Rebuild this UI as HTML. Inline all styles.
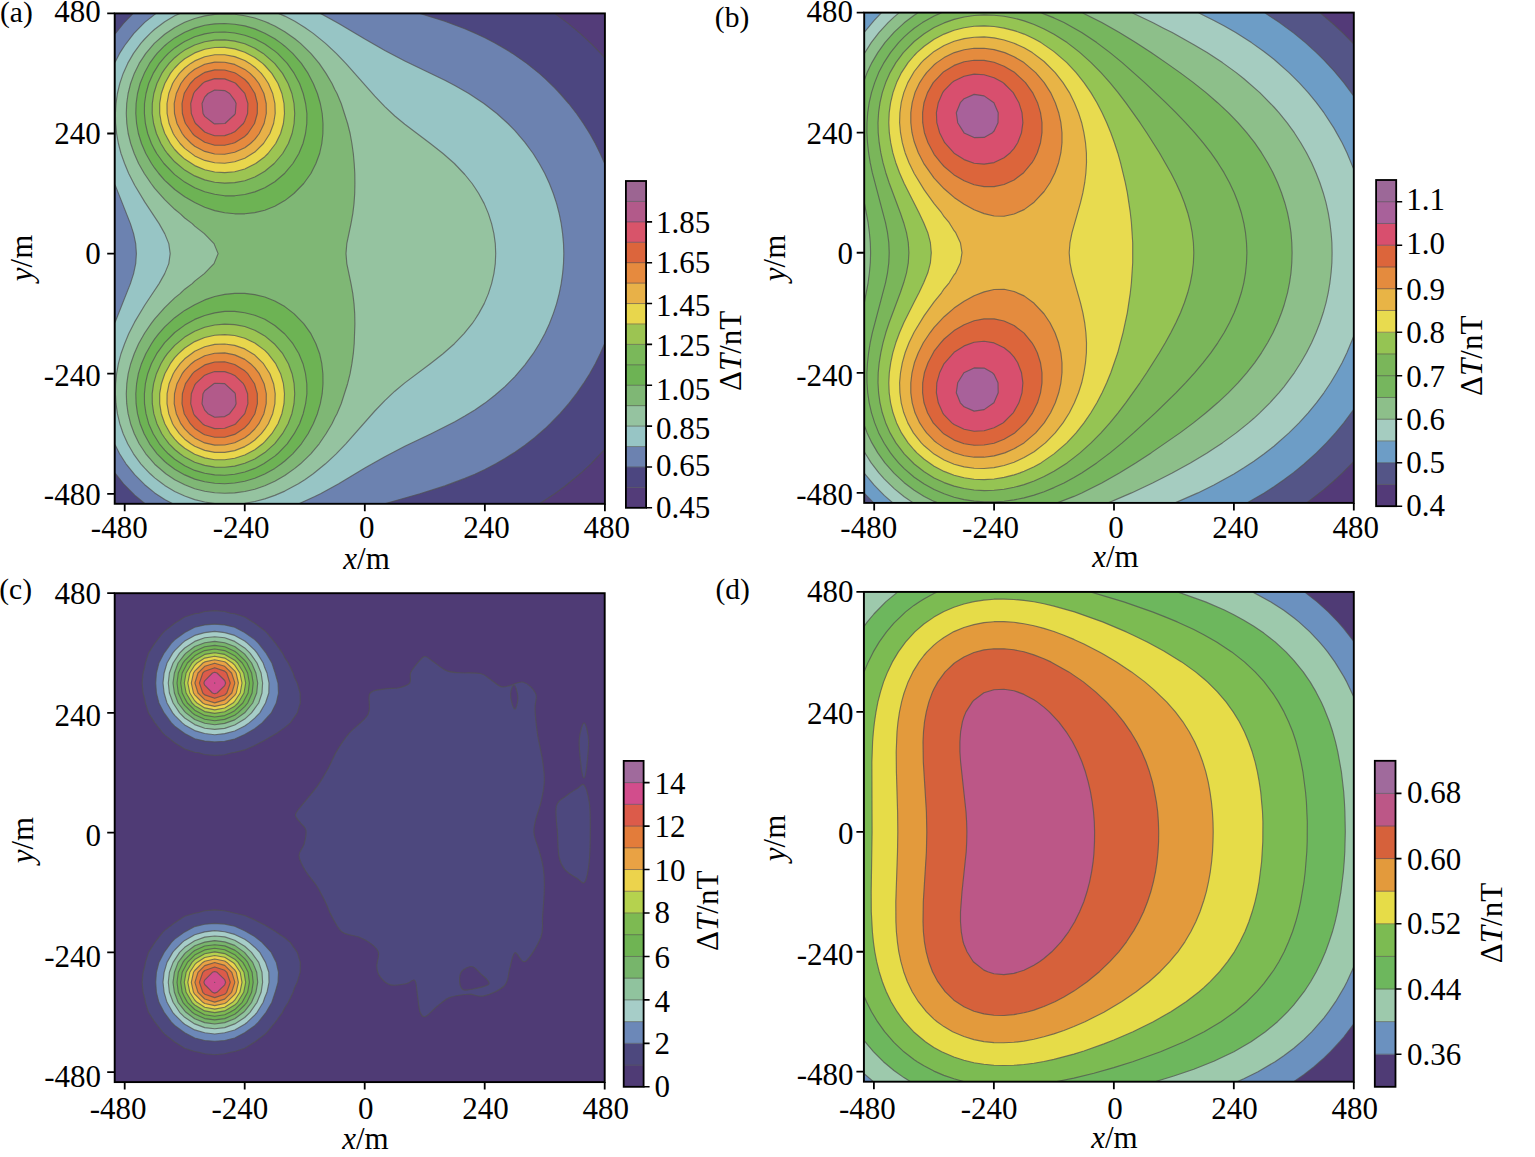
<!DOCTYPE html>
<html><head><meta charset="utf-8"><title>Magnetic anomaly contour maps</title>
<style>html,body{margin:0;padding:0;background:#fff;}svg{display:block;}text{font-family:"Liberation Serif", "Times New Roman", serif;font-size:31.0px;fill:#000;}</style></head><body>
<svg width="1535" height="1157" viewBox="0 0 1535 1157">
<rect width="1535" height="1157" fill="#fff"/>
<clipPath id="clipa"><rect x="114.70" y="13.40" width="490.20" height="490.40"/></clipPath>
<g clip-path="url(#clipa)">
<rect x="114.70" y="13.40" width="490.20" height="490.40" fill="#533c79"/>
<g stroke="#505050" stroke-width="1.15" stroke-opacity="0.72" stroke-linejoin="round">
<path d="M124.7 503.8l414.7 0l15.3 -10l10.2 -7.5l15.2 -12.5l10.8 -10l14 -14.6l0 -391.2l-4.1 -4.6l-9.9 -10l-10.8 -10l-12 -10l-13.4 -10l-440 0l0 488.3l2 2.1Z" fill="#4c4680"/>
<path d="M134.7 495.2l10.4 8.6l239.6 0l35.2 -10l24.9 -7.9l20 -7.5l10 -4.2l10.1 -4.8l10.9 -5.6l9.1 -5.3l10 -6.3l10 -7l10 -7.8l10 -8.6l5.3 -5.1l9.8 -10l8.7 -10l7.8 -10l6.9 -10l6.3 -10l5.6 -10l4.9 -10l4.7 -10.6l0 -179l-4.7 -10.6l-4.9 -10l-5.6 -10l-6.3 -10l-6.9 -10l-7.8 -10l-8.7 -10l-5.1 -5.4l-10 -9.7l-5.6 -5l-12.5 -10l-14.3 -10l-7.6 -4.7l-10 -5.8l-10 -5.2l-9.2 -4.3l-10.9 -4.6l-20 -7.5l-24.9 -7.9l-286.7 0l-9.7 10l-8.8 11.1l0 438.2l8.8 11.1Z" fill="#6c82b0"/>
<path d="M164.7 499.6l8.2 4.2l126 0l15.9 -7.2l5.7 -2.8l18.2 -10l26.1 -15.7l20 -11.4l20 -10.4l26.3 -12.6l23.7 -12l10 -5.6l10 -6.2l10.1 -6.8l10 -7.8l10 -8.7l10 -10l10 -11.7l8.2 -11.2l6.2 -10l5.5 -10l4.6 -10l3.9 -10.1l1.6 -4.7l1.7 -5.3l2.6 -10l2 -10l1.4 -10l.9 -10l.3 -10l-.3 -10l-.9 -10l-1.4 -10l-2 -10l-2.6 -10l-3.3 -10.1l-3.9 -10l-4.6 -10l-5.5 -10l-6.2 -10l-8.2 -11.2l-10 -11.7l-7 -7.1l-11.1 -10l-12.9 -10l-15.1 -10l-14 -8l-10 -5.3l-40 -19.3l-20 -10.4l-20 -11.4l-26.1 -15.7l-18.2 -10l-164.4 0l-11.4 9l-10.8 11l-9.2 12.1l-5.1 7.9l-4.9 9.7l0 120.8l15.7 39.7l3.2 10l2.1 10l.7 10l-.7 10l-2.1 10l-3.2 10l-15.7 39.7l0 120.8l4.9 9.7l5.1 7.9l1.3 2.1l8.7 10.9l10 10l10 8.2Z" fill="#97c5c5"/>
<path d="M184.7 496l10 3.6l10 2.4l10 1.5l4.2 .3l18.9 0l7 -.6l10 -1.7l10 -2.6l10 -3.5l10 -4.3l13.6 -7.3l6.4 -4.1l8.4 -5.9l12.3 -10l10.7 -10l9.6 -10l29 -32.8l10 -10.4l10 -9.4l10 -8.3l25.5 -19.2l12.7 -10l11.4 -10l9.6 -10l8.1 -10l2.7 -4l3.9 -6.1l5.5 -10l4.2 -10l3.2 -10l2.3 -10l1.4 -10l.4 -10l-.4 -10l-1.4 -10l-2.3 -10l-3.2 -10l-4.2 -10l-5.5 -10.1l-3.9 -6l-2.7 -4l-7.3 -9l-10.4 -11l-11.4 -10l-12.7 -10l-25.5 -19.2l-10 -8.3l-10 -9.4l-10 -10.4l-29 -32.8l-9.6 -10l-10.7 -10l-12.3 -10l-8.4 -5.9l-10 -6.2l-10 -5.2l-6.2 -2.7l-98.6 0l-5.3 2.4l-10 6l-10 7.5l-4.5 4.1l-5.5 5.6l-3.9 4.4l-7.3 10l-5.8 10l-4.5 10l-3.4 10.1l-2.4 10l-1.4 10l-.6 10l.2 10l1 10l1.8 10l2.6 10l3.6 10l4.1 10l6 11.8l10 16.6l14.4 21.7l5.6 10l4.1 10l1.4 10l-1.4 10l-4.1 10l-5.6 10l-14.4 21.7l-10 16.6l-6 11.8l-4.1 10l-3.6 10l-2.6 10l-1.8 10l-1 10l-.2 10l.6 10l1.4 10l2.4 10l3.4 10l4.5 10.1l5.8 10l7.3 10l3.9 4.4l5.5 5.6l4.5 4.1l7.8 5.9l2.2 1.6l10 6Z" fill="#95c3a0"/>
<path d="M184.7 484.8l10 3.9l10 2.6l10 1.5l10 .5l10 -.4l10.1 -1.4l10 -2.3l10 -3.5l10 -4.5l10 -5.7l10 -7.1l5.7 -4.6l10.3 -10l8.4 -10l6.8 -10.1l6 -10l2.8 -6l2.2 -4l4.2 -10l6.4 -20l2.5 -10l1.8 -10l1.4 -10l.9 -10l.7 -20l-.2 -10.1l-.7 -10l-1.2 -10l-1.8 -10l-4.2 -20l-.8 -10l.8 -10l4.2 -20l1.8 -10l1.2 -10l.7 -10.1l.2 -10l-.1 -10l-.6 -10l-.9 -10l-1.4 -10l-1.8 -10l-2.5 -10l-6.4 -20l-4.2 -10l-2.2 -4l-2.8 -6l-6 -10.1l-6.8 -10l-8.4 -10l-10.3 -10l-5.7 -4.6l-10 -7.1l-10 -5.7l-5.6 -2.6l-4.4 -1.9l-10 -3.5l-10 -2.3l-10.1 -1.4l-10 -.4l-10 .5l-10 1.5l-10 2.6l-10 3.8l-10 5.1l-10 6.8l-10.4 9.2l-8.5 10l-6.6 10l-4.9 10l-3.7 10.1l-2.5 10l-1.4 10l-.4 10l.5 10l1.4 10l2.5 10l3.5 10l4.4 10l5.7 10l6.8 10l3.6 4.8l10 11.3l10 9.7l5.4 4.3l4.6 4.4l7.5 5.6l2.5 2.5l9.6 7.5l9.7 10l4.1 10l-4.1 10l-9.7 10l-9.6 7.5l-2.5 2.5l-7.5 5.6l-4.6 4.4l-5.4 4.3l-10 9.7l-10 11.3l-3.6 4.8l-6.4 9.3l-6.1 10.7l-4.4 10l-3.5 10l-2.5 10l-1.4 10l-.5 10l.4 10l1.4 10l2.5 10l3.7 10l4.9 10.1l6.6 10l8.9 10.4l11.1 9.6l8.9 6Z" fill="#7fb775"/>
<path d="M184.7 474.9l10 4.2l10 2.7l10 1.5l10 .4l10 -.7l10.1 -1.7l10 -3l10 -4.3l10 -5.6l6.5 -4.6l3.5 -2.8l7.9 -7.2l8.7 -10l6.7 -10.1l5.2 -10l4.1 -10l2.9 -10l1.9 -10l.8 -10l-.1 -10l-1.1 -10l-2.2 -10l-3.7 -10l-5 -10l-7.2 -10l-9.8 -10.1l-9.1 -7l-10 -5.6l-10 -4l-10 -2.4l-10 -1.2l-10.1 0l-10 1l-10 2.1l-10 3.4l-10 4.8l-10 5.7l-10 7.3l-10 9.2l-5.9 6.8l-4.1 5.2l-3.2 4.8l-5.7 10l-4.3 10l-3.1 10l-1.8 10l-.8 10l.3 10l1.4 10l2.6 10l4 10l5.5 10.1l7.5 10l7.6 7.7l2.7 2.3l7.3 5.5ZM234.7 213.8l10.1 0l10 -1.2l10 -2.4l10 -4l10 -5.6l9.1 -7.1l9.8 -10l7.2 -10l5 -10l3.7 -10l2.2 -10l1.1 -10l.1 -10l-.8 -10l-1.9 -10l-2.9 -10l-4.1 -10l-5.2 -10.1l-6.7 -10l-8.7 -10l-7.9 -7.2l-3.5 -2.8l-6.5 -4.6l-10 -5.6l-10 -4.3l-10 -3l-10.1 -1.7l-10 -.7l-10 .4l-10 1.4l-10 2.8l-10 4.2l-10 5.6l-7.3 5.5l-2.7 2.3l-7.6 7.7l-2.4 3l-5.1 7l-4.9 9l-4.6 11.1l-2.6 10l-1.4 10l-.3 10l.8 10l1.8 10l3.1 10l4.3 10l5.7 10l3.2 4.7l4.1 5.3l5.9 6.8l3.5 3.2l6.5 6l10 7.3l10 5.7l10 4.8l10 3.3l10 2.1Z" fill="#6db354"/>
<path d="M214.7 474.9l10 .3l10 -1l10.1 -2.2l10 -3.6l8.9 -4.6l11.1 -7.7l2.8 -2.3l9.6 -10l7 -10.1l5.4 -10l3.6 -10l2.4 -10l1.3 -10l-.1 -10l-1.3 -10l-2.5 -10l-4.1 -10l-6 -10l-8.1 -9.7l-10 -8.5l-10 -6.2l-10 -4l-10 -2.6l-10.1 -1.3l-10 0l-10 1.5l-10 2.6l-10 3.9l-10 5.7l-10 7.4l-10 10.1l-8 11.1l-5.3 10l-3.7 10l-2.3 10l-1 10l.1 10l1.5 10l2.7 10l4.5 10l6.2 10.1l5.3 6.3l3.6 3.7l6.4 5.5l10 6.5l10 4.6l10 2.9ZM214.7 194.3l10 1.5l10 0l10.1 -1.3l10 -2.6l10 -4.1l10 -6.1l10 -8.5l8.1 -9.7l6 -10l4.1 -10l2.5 -10l1.3 -10l.1 -10l-1.3 -10l-2.4 -10l-3.6 -10l-5.4 -10.1l-7 -10l-9.6 -10l-2.8 -2.3l-10 -7.1l-10 -5.2l-10 -3.6l-10.1 -2.2l-10 -1l-10 .3l-10 1.6l-10 2.9l-10 4.6l-3.3 2l-6.7 4.5l-6.4 5.5l-3.6 3.7l-5.3 6.3l-6.2 10l-4.5 10.1l-2.7 10l-1.5 10l-.1 10l1 10l2.3 10l3.7 10l3.3 6.4l2 3.6l7.2 10l10.8 11.1l10 7.5l10 5.7l10 3.9Z" fill="#7ab85a"/>
<path d="M204.7 465.4l10 1.7l10 .2l10 -1.2l10.1 -2.8l10 -4.3l10 -6.4l10 -9l7.7 -9.9l5.6 -10l3.8 -10l2.1 -10l.7 -10l-.6 -10l-2 -10l-3.7 -10l-5.7 -10l-8.5 -10l-9.4 -7.8l-3.8 -2.2l-6.2 -3.5l-10 -3.7l-10.1 -1.9l-10 -.5l-10 .9l-10 2.3l-10 4l-10 5.8l-10 8.3l-7.3 8.3l-2.7 3.7l-3.8 6.3l-4.5 10l-2.8 10l-1.4 10l.1 10l1.5 10l3.1 10l4.9 10l2.9 4.3l4.4 5.8l5.6 5.7l5.3 4.3l4.7 3.3l10 5.1ZM194.7 175.9l10 4l10 2.3l10 .9l10 -.5l10.1 -1.9l10 -3.7l6.2 -3.5l3.8 -2.2l9.4 -7.8l8.5 -10l5.7 -10l3.7 -10l2 -10l.6 -10l-.7 -10l-2.1 -10l-3.8 -10l-5.6 -10.1l-7.9 -10l-11.4 -10l-8.4 -5.2l-10 -4.4l-10.1 -2.7l-10 -1.2l-10 .2l-10 1.7l-10 3.2l-10 5.1l-4.7 3.3l-5.3 4.3l-5.6 5.7l-4.4 5.7l-2.9 4.3l-4.9 10.1l-3.1 10l-1.5 10l-.1 10l1.4 10l2.8 10l4.5 10l3.8 6.3l2.7 3.7l7.3 8.3l10 8.3Z" fill="#9cc452"/>
<path d="M194.7 454.3l10 3.6l10 1.8l10 .1l10 -1.5l10.1 -3.3l10 -5.3l7.8 -5.9l2.2 -2.1l7 -8l6.2 -10l3.9 -10l2.1 -10l.5 -10l-1.1 -10l-2.8 -10l-4.9 -10l-7.7 -10l-3.2 -3.3l-10 -7.4l-10 -4.8l-10.1 -2.7l-10 -.9l-10 .6l-10 2.3l-10 4.1l-10 6.4l-6.2 5.7l-3.8 4l-4.4 6l-5.5 10l-3.4 10l-1.7 10l0 10l1.6 10l3.5 10l5.6 10l4.3 5.5l4.5 4.6l5.5 4.5ZM194.7 165.6l10 4.1l10 2.3l10 .6l10 -.9l10.1 -2.7l10.9 -5.5l9.1 -6.8l3.2 -3.2l7.7 -10l4.9 -10l2.8 -10l1.1 -10l-.5 -10l-2.1 -10l-3.9 -10l-6.2 -10.1l-7 -7.9l-2.2 -2.1l-7.8 -5.9l-10 -5.3l-10.1 -3.3l-10 -1.5l-10 .1l-10 1.8l-10 3.6l-10 5.9l-5.5 4.6l-4.5 4.6l-4.3 5.4l-5.6 10.1l-3.5 10l-1.6 10l0 10l1.7 10l3.3 9.8l5.6 10.2l4.4 6l3.8 4l6.2 5.6Z" fill="#e8d64c"/>
<path d="M194.7 446.3l10 4.1l10 2l10 0l10 -1.8l10.1 -4l4.8 -2.8l5.2 -3.8l6.5 -6.3l3.5 -4.5l3.6 -5.5l4.3 -10l2.2 -10l.3 -10l-1.6 -10l-3.7 -10l-6.4 -10l-8.7 -8.6l-10 -6.2l-10.1 -3.5l-10 -1.4l-10 .4l-10 2.4l-10 4.5l-10 7.5l-4.6 4.9l-5.4 7.5l-1.5 2.5l-4.1 10l-2 10l-.1 10l1.8 10l3.8 10l2.1 3.5l4.7 6.5l5.3 5.5l6 4.6ZM194.7 155.9l10 4.5l10 2.4l10 .4l10 -1.4l10.1 -3.5l10 -6.2l8.7 -8.6l6.4 -10l3.7 -10l1.6 -10l-.3 -10l-2.2 -10l-4.3 -10l-3.6 -5.5l-3.5 -4.6l-6.5 -6.2l-5.2 -3.8l-4.8 -2.9l-10.1 -3.9l-10 -1.8l-10 0l-10 2l-10 4.1l-4 2.5l-6 4.6l-5.3 5.4l-4.7 6.6l-2.1 3.5l-3.8 10l-1.8 10l.1 10l2 10l4.1 10l1.5 2.5l5.4 7.5l4.6 4.9Z" fill="#e8b148"/>
<path d="M214.7 445.1l10 -.1l10 -2.3l10.1 -4.9l5.3 -4.1l4.7 -4.7l4.1 -5.3l5 -10l2.3 -10l.1 -10l-2.2 -10l-4.8 -10l-4.5 -5.9l-4.3 -4.1l-5.7 -4.3l-10.1 -4.5l-10 -2l-10 .3l-10 2.6l-10 5.2l-3.4 2.7l-6.6 6.6l-2.5 3.4l-5.2 10l-2.5 10l-.3 10l2.1 10l4.6 10l3.8 5.2l4.7 4.8l5.3 4.2l10 5ZM214.7 154l10 .3l10 -2l10.1 -4.5l5.7 -4.3l4.3 -4.1l4.5 -5.9l4.8 -10l2.2 -10l-.1 -10l-2.3 -10l-5 -10l-4.1 -5.3l-4.7 -4.8l-5.3 -4l-10.1 -5l-10 -2.2l-10 -.1l-10 2.2l-10 5l-5.3 4.1l-4.7 4.9l-3.8 5.2l-4.6 10l-2.1 10l.3 10l2.5 10l5.2 10l2.5 3.4l6.6 6.6l3.4 2.7l10 5.2Z" fill="#e68a3e"/>
<path d="M204.7 434.8l10 2.5l10 -.1l10 -2.8l10.1 -6.7l3.8 -4l6.3 -10l2.5 -10l-.1 -10l-2.8 -10l-6.7 -10l-3 -2.9l-10.1 -6.3l-10 -2.7l-10 .2l-10 2.9l-10 6.5l-2.2 2.3l-7 10l-3.1 10l-.4 10l2.2 10l6.1 10l4.4 4.7l8.1 5.3ZM214.7 145.2l10 .1l7.4 -1.8l2.6 -.8l10.1 -6.3l3 -2.9l6.7 -10l2.8 -10l.1 -10l-2.5 -10l-6.3 -10l-3.8 -4l-8.8 -6.1l-1.3 -.6l-10 -2.8l-10 -.1l-10 2.5l-1.9 1l-8.1 5.4l-4.4 4.7l-5.6 9l-.5 1l-2.2 10l.4 10l2.3 8l.8 2l7 10l2.2 2.3l10 6.5Z" fill="#dc653c"/>
<path d="M204.7 425.3l10 3.3l10 -.3l10 -3.8l1.1 -.8l9 -10l3.1 -10l-.3 -10l-2.8 -7.4l-1.4 -2.6l-8.7 -8.3l-3.7 -1.7l-6.3 -2.1l-10 -.1l-6.5 2.2l-3.5 1.5l-9.1 8.5l-.9 1.4l-3.4 8.6l-.6 10l2.9 10l1.1 1.8l7.8 8.2ZM214.7 135.7l10 -.1l6.3 -2.1l3.7 -1.7l8.7 -8.3l1.4 -2.6l2.8 -7.4l.3 -10l-3.1 -10.1l-9 -9.9l-1.1 -.8l-10 -3.8l-10 -.3l-10 3.3l-2.2 1.6l-7.8 8.2l-1.1 1.8l-2.9 10l.6 10l3.4 8.6l.9 1.4l9.1 8.5l3.5 1.5Z" fill="#d8546a"/>
<path d="M214.7 417.2l10 -.6l4.9 -2.9l5.1 -6.8l1.4 -3.2l-.8 -10l-.6 -1l-10 -9.1l-10 -.3l-.9 .4l-9.1 7.1l-1.7 2.9l-1 10l2.7 6.4l3.3 3.6ZM214.7 123.9l10.3 -.4l9.7 -9l.6 -1l.8 -10l-1.4 -3.2l-5.1 -6.8l-4.9 -2.9l-10 -.6l-6.7 3.5l-3.3 3.6l-2.7 6.4l1 10l1.7 2.9l9.1 7.1Z" fill="#b25a8a"/>
</g>
</g>
<rect x="114.70" y="13.40" width="490.20" height="490.40" fill="none" stroke="#000" stroke-width="1.9"/>
<path d="M124.70 503.80V511.30M114.70 493.79H107.20M244.75 503.80V511.30M114.70 373.69H107.20M364.80 503.80V511.30M114.70 253.60H107.20M484.85 503.80V511.30M114.70 133.50H107.20M604.90 503.80V511.30M114.70 13.40H107.20" stroke="#000" stroke-width="1.8" fill="none"/>
<text x="119.25" y="538.30" text-anchor="middle">-480</text>
<text x="241.15" y="538.30" text-anchor="middle">-240</text>
<text x="366.70" y="538.30" text-anchor="middle">0</text>
<text x="486.55" y="538.30" text-anchor="middle">240</text>
<text x="606.75" y="538.30" text-anchor="middle">480</text>
<text x="100.70" y="22.25" text-anchor="end">480</text>
<text x="100.70" y="143.85" text-anchor="end">240</text>
<text x="100.70" y="263.85" text-anchor="end">0</text>
<text x="100.70" y="385.65" text-anchor="end">-240</text>
<text x="100.70" y="505.45" text-anchor="end">-480</text>
<text x="366.50" y="568.50" text-anchor="middle"><tspan font-style="italic">x</tspan>/m</text>
<text transform="translate(32.00 258.00) rotate(-90)" text-anchor="middle"><tspan font-style="italic">y</tspan>/m</text>
<text x="0.05" y="22.20" style="font-size:29.5px">(a)</text>
<rect x="625.90" y="487.38" width="20.20" height="20.73" fill="#533c79"/>
<rect x="625.90" y="466.95" width="20.20" height="20.73" fill="#4c4680"/>
<rect x="625.90" y="446.52" width="20.20" height="20.73" fill="#6c82b0"/>
<rect x="625.90" y="426.10" width="20.20" height="20.73" fill="#97c5c5"/>
<rect x="625.90" y="405.68" width="20.20" height="20.73" fill="#95c3a0"/>
<rect x="625.90" y="385.25" width="20.20" height="20.73" fill="#7fb775"/>
<rect x="625.90" y="364.83" width="20.20" height="20.73" fill="#6db354"/>
<rect x="625.90" y="344.40" width="20.20" height="20.73" fill="#7ab85a"/>
<rect x="625.90" y="323.98" width="20.20" height="20.73" fill="#9cc452"/>
<rect x="625.90" y="303.55" width="20.20" height="20.73" fill="#e8d64c"/>
<rect x="625.90" y="283.12" width="20.20" height="20.73" fill="#e8b148"/>
<rect x="625.90" y="262.70" width="20.20" height="20.73" fill="#e68a3e"/>
<rect x="625.90" y="242.27" width="20.20" height="20.73" fill="#dc653c"/>
<rect x="625.90" y="221.85" width="20.20" height="20.73" fill="#d8546a"/>
<rect x="625.90" y="201.43" width="20.20" height="20.73" fill="#b25a8a"/>
<rect x="625.90" y="181.00" width="20.20" height="20.73" fill="#9c6592"/>
<path d="M625.90 487.38H646.10M625.90 466.95H646.10M625.90 446.52H646.10M625.90 426.10H646.10M625.90 405.68H646.10M625.90 385.25H646.10M625.90 364.83H646.10M625.90 344.40H646.10M625.90 323.98H646.10M625.90 303.55H646.10M625.90 283.12H646.10M625.90 262.70H646.10M625.90 242.27H646.10M625.90 221.85H646.10M625.90 201.43H646.10" stroke="#505050" stroke-width="1" stroke-opacity="0.6" fill="none"/>
<rect x="625.90" y="181.00" width="20.20" height="326.80" fill="none" stroke="#000" stroke-width="1.8"/>
<text x="656.10" y="518.05">0.45</text>
<text x="656.10" y="476.45">0.65</text>
<text x="656.10" y="439.05">0.85</text>
<text x="656.10" y="400.15">1.05</text>
<text x="656.10" y="356.25">1.25</text>
<text x="656.10" y="316.25">1.45</text>
<text x="656.10" y="273.25">1.65</text>
<text x="656.10" y="233.35">1.85</text>
<path d="M646.10 507.80H652.10M646.10 466.95H652.10M646.10 426.10H652.10M646.10 385.25H652.10M646.10 344.40H652.10M646.10 303.55H652.10M646.10 262.70H652.10M646.10 221.85H652.10" stroke="#000" stroke-width="1.6" fill="none"/>
<text transform="translate(741.00 350.90) rotate(-90)" text-anchor="middle">&#916;<tspan font-style="italic">T</tspan>/nT</text>
<clipPath id="clipb"><rect x="864.20" y="12.60" width="489.60" height="490.30"/></clipPath>
<g clip-path="url(#clipb)">
<rect x="864.20" y="12.60" width="489.60" height="490.30" fill="#533a78"/>
<g stroke="#505050" stroke-width="1.15" stroke-opacity="0.72" stroke-linejoin="round">
<path d="M874.2 502.9l432.4 0l17.2 -13.3l10 -8.6l8.7 -8.1l11.3 -11.5l0 -417.3l-1.4 -1.5l-9.9 -10l-8.7 -8.1l-14 -11.9l-455.6 0l0 490.3Z" fill="#545587"/>
<path d="M874.2 502.9l372.7 0l17.4 -10l9.6 -6.2l10 -6.9l9.9 -7.4l10 -8.2l12.6 -11.3l10 -10l9.1 -10l8.3 -10l10 -13.5l0 -313.3l-10 -13.5l-10 -11.9l-10 -10.8l-7.4 -7.3l-11 -10l-11.6 -9.5l-14.3 -10.5l-15.2 -10l-400.1 0l0 480.5l9.5 9.8Z" fill="#6d9dc6"/>
<path d="M884.2 495.4l8.7 7.5l282.2 0l22.8 -10l16 -7.9l20 -11l10 -6.2l10 -6.6l10 -7.2l10 -7.8l15.1 -13.3l10.1 -10l9.1 -10.1l8.2 -10l7.5 -10l6.7 -10l6 -10l5.5 -10l4.8 -10l6.9 -16.8l0 -166.6l-6.9 -16.7l-4.8 -10l-8.3 -14.8l-9.9 -15.2l-7.5 -10l-8.2 -10.1l-9.1 -10l-10.1 -10l-15.1 -13.3l-10 -7.8l-12.5 -8.9l-15.7 -10l-11.8 -6.8l-10 -5.3l-16 -7.9l-316.3 0l-7.4 7.7l-10 12.1l0 440.7l10 12.1Z" fill="#a5ccc0"/>
<path d="M904.2 496.7l9.1 6.2l195.1 0l23.1 -10l21.1 -10l19.6 -10l18.2 -10l16.7 -10l6.8 -4.4l8.5 -5.6l13.8 -10l12.4 -10l5.3 -4.6l5.9 -5.5l10.1 -10l9 -10l5 -6l10.4 -14l6.4 -10l5.8 -10l5.1 -10l4.4 -10l3.9 -10l3.3 -10l2.8 -10l2.2 -10l1.7 -10l1.2 -10l.8 -10l.2 -10.1l-.2 -10l-.8 -10l-1.2 -10l-1.7 -10l-2.2 -10l-2.8 -10l-3.3 -10l-3.9 -10l-4.4 -10l-5.1 -10l-5.8 -10l-6.4 -10l-7.3 -10l-8.1 -10l-5 -5.7l-14.1 -14.4l-15.9 -13.9l-7.7 -6.1l-13.8 -10l-15.3 -10l-13.2 -7.9l-21.7 -12.1l-8.2 -4.2l-11.4 -5.8l-21.1 -10l-232.2 0l-5.1 4.3l-6.1 5.7l-9.2 10l-7.7 10l-7 11.2l0 397.9l7 11.2l7.7 10l5.3 5.9l10 9.8Z" fill="#8dbf8a"/>
<path d="M924.2 496.4l9.9 5l3.6 1.5l119.5 0l16.8 -6.5l7.8 -3.5l20 -10l17.6 -10l16.3 -10l15.4 -10l28.9 -20l13.4 -10l12.6 -10.1l11.6 -10l10.7 -10l9.7 -10l8.7 -10l7.9 -10l6.9 -10l6.1 -10l5.4 -10l4.6 -10l3.9 -10l2.4 -7l3.6 -13l2 -10l1.5 -10l.8 -10l.3 -10.1l-.3 -10l-.8 -10l-1.5 -10l-2 -10l-2.7 -10l-3.3 -10l-3.9 -10l-4.6 -10l-5.4 -10l-6.1 -10l-6.9 -10l-7.9 -10l-8.7 -10l-4.1 -4.3l-5.6 -5.7l-10.7 -10l-11.6 -10.1l-12.6 -10l-13.4 -10l-14.2 -10l-14.7 -10l-15.4 -10l-16.3 -10l-17.6 -10l-20 -10l-163.4 0l-4.2 2.7l-10 7.5l-10 9.3l-9.3 10.5l-7.1 10l-5.9 10l-4.8 10l-2.9 7.7l0 121.8l3.9 20.6l1.3 10l.9 10l.3 10l-.3 10.1l-.9 10l-1.3 10l-3.9 20.6l0 121.8l2.9 7.7l4.8 10l5.9 10l7.1 10l9.3 10.5l10 9.3l10 7.5Z" fill="#76b65e"/>
<path d="M944.1 493.8l10 3.4l10 2.4l10 1.5l10 .8l10 0l10 -.6l10 -1.4l10 -2l10 -2.8l10 -3.4l9.9 -4.1l10 -4.7l10 -5.5l7.7 -4.5l15 -10l13.3 -10l12.2 -10l11.4 -10l21.8 -20.1l20.5 -20l9.6 -10l9.1 -10l8.4 -10l7.8 -10l7 -10l6.3 -10l5.4 -10l4.7 -10l3.9 -10l3.2 -10l2.5 -10l1.7 -10l1 -10l.4 -10.1l-.4 -10l-1 -10l-1.6 -9.3l-2.6 -10.7l-3.2 -10l-3.9 -10l-4.7 -10l-5.6 -10.3l-6.1 -9.7l-7 -10l-7.8 -10l-8.4 -10l-9.1 -10l-9.6 -10l-10.1 -10l-21.1 -20.1l-22.5 -20l-12.2 -10l-13.3 -10l-15 -10l-17.7 -10l-10 -4.7l-13.3 -5.3l-98.8 0l-7.8 3.4l-11.7 6.6l-8.2 5.7l-5.3 4.3l-4.7 4.3l-5.6 5.7l-8.1 10l-6.5 10l-5.3 10l-4 10l-3.2 10l-2.3 10.1l-1.5 10l-.7 10l-.1 10l.6 10l1.1 10l1.6 10l2.1 10l13.2 50l2 10l1.3 10l.4 10l-.4 10.1l-1.3 10l-2 10l-13.2 50l-2.1 10l-1.6 10l-1.1 10l-.6 10l.1 10l.7 10l1.5 10l2.3 10l3.2 10.1l4 10l5.5 10.3l6.3 9.7l3.7 4.8l4.4 5.2l5.6 5.7l10 8.6l10 6.8l9.9 5.5Z" fill="#7ab65a"/>
<path d="M954.1 486.1l10 2.4l10 1.5l10 .6l10 -.3l10 -1.1l10 -1.9l10 -2.7l10 -3.6l10 -4.5l9.9 -5.3l13.1 -8.3l6.9 -5.3l6 -4.7l11.1 -10l9.9 -10l8.9 -10l8.2 -10.1l7.6 -10l14.3 -20l6.7 -10l12.7 -20l5.9 -10l5.5 -10l5.1 -10l4.6 -10l3.9 -10l3.3 -10l2.6 -10l1.9 -10l1.2 -10l.4 -10.1l-.4 -10l-1.2 -10l-1.9 -10l-2.6 -10l-3.3 -10l-3.9 -10l-4.6 -10l-5.1 -10l-11.4 -20l-12.7 -20l-6.7 -10l-14.3 -20l-7.6 -10.1l-8.2 -10l-8.9 -10l-9.9 -10l-11.1 -10l-6 -4.7l-6.9 -5.3l-13.1 -8.3l-9.9 -5.3l-10 -4.5l-10 -3.6l-10 -2.7l-10 -1.9l-10 -1.1l-10 -.3l-10 .6l-10 1.5l-10 2.4l-10 3.5l-10 4.7l-9.9 6.1l-10 7.8l-10.9 11.1l-7.4 10l-5.8 10l-4.4 10l-3.4 10l-2.3 10.1l-1.4 10l-.6 10l.2 10l1 10l1.6 10l2.2 10l2.8 10l3.3 10l11.2 30l3.4 10l2.8 10l1.8 10l.6 10l-.6 10.1l-1.8 10l-2.8 10l-3.4 10l-11.2 30l-3.3 10l-2.8 10l-2.2 10l-1.6 10l-1 10l-.2 10l.6 10l1.4 10l2.3 10l3.4 10.1l4.4 10l5.8 10l8.3 11l10 10.1l10 7.8l9.9 6.1l10 4.7Z" fill="#95c453"/>
<path d="M954.1 475.2l10 2.5l10 1.5l10 .4l10 -.6l10 -1.6l10 -2.5l5.9 -2l4.1 -1.6l10 -4.6l6.9 -3.8l13 -9l12.8 -11l9.3 -10l7.9 -10l6.9 -10.1l6 -10l5.2 -10l4.6 -10l4.1 -10l6.9 -20l5.3 -20l4.3 -20l3 -20l1.1 -10l1.3 -20l0 -20.1l-1.3 -20l-1.1 -10l-3 -20l-2 -10l-4.8 -20l-2.8 -10l-3.3 -10l-3.6 -10l-4.1 -10l-4.6 -10l-5.2 -10l-6 -10.1l-6.9 -10l-7.9 -10l-9.3 -10l-12.8 -11l-13 -9l-6.9 -3.8l-10 -4.7l-10 -3.5l-10 -2.5l-10 -1.6l-10 -.6l-10 .4l-10 1.5l-10 2.5l-10 3.8l-10 5.2l-9.9 6.9l-7.3 6.4l-2.7 2.9l-6.1 7.1l-6.6 10l-4.9 10l-3.6 10l-2.4 10.1l-1.4 10l-.4 10l.5 10l1.4 10l2.1 10l1.4 4.7l1.6 5.3l3.7 10l4.7 10.9l14.8 29.1l4.7 10l4.1 10l2.6 10l.9 10l-.9 10.1l-2.6 10l-4.1 10l-4.7 10l-4.8 9.1l-10.4 20.9l-4.3 10l-3.7 10l-3 10l-2.1 10l-1.4 10l-.5 10l.4 10l1.4 10l2.4 10l3.6 10.1l4.9 10l6.6 10l6.1 7.1l2.7 2.9l7.3 6.4l9.9 6.9l10 5.2Z" fill="#e8db4f"/>
<path d="M954.1 464.2l10 2.7l10 1.4l10 .2l10 -.9l10 -2.1l10 -3.2l10 -4.7l10 -5.9l11.3 -8.8l9.8 -10l7.8 -10l6.4 -10.1l5 -10l4.1 -10l3.2 -10l2.2 -10l1.6 -10l.9 -10l.1 -10l-.6 -10l-1.2 -10l-1.8 -10l-2.4 -10l-8.5 -30l-2 -10l-.8 -10.1l.8 -10l2 -10l8.5 -30l2.4 -10l1.8 -10l1.2 -10l.6 -10l-.1 -10l-.9 -10l-1.6 -10l-2.2 -10l-3.2 -10l-4.1 -10l-5 -10.1l-6.4 -10l-7.8 -10l-11.1 -11.1l-11.8 -8.9l-8.2 -4.8l-10 -4.6l-10 -3.2l-10 -2.1l-10 -1l-10 .3l-10 1.4l-10 2.7l-10 4.2l-10 5.9l-9.9 8.3l-2.9 2.9l-7.1 8.9l-6.4 11.1l-4 10l-2.6 10.1l-1.3 10l-.3 10l.9 10l1.8 10l1.9 6.8l.9 3.2l3.9 10l5.2 10.8l10 16.4l9.9 13.7l7.4 9.1l2.6 4l5.1 6l4.9 8l1.6 2l4.7 10l1.6 10l-1.6 10.1l-4.7 10l-1.6 2l-4.9 8l-5.1 6l-2.6 4l-7.4 9.1l-9.9 13.7l-10 16.4l-5.2 10.8l-3.9 10l-.9 3.2l-1.9 6.8l-1.8 10l-.9 10l.3 10l1.3 10l2.6 10l4 10.1l5.6 10l7.9 10l2.9 2.9l9.9 8.3l10 5.9Z" fill="#e8b446"/>
<path d="M964.1 455.8l10 1.4l10 0l10 -1.3l10.7 -3l9.3 -4.1l9.9 -5.9l11.7 -10l8.5 -10l6.4 -10.1l4.7 -10l3.4 -10l2.2 -10l1.1 -10l0 -10l-1.1 -10l-2.3 -10l-3.6 -10l-5 -10l-5.9 -8.8l-10 -10.7l-10 -7.4l-10 -4.4l-10 -2.2l-10 .2l-10 2.4l-10 3.9l-10 5.5l-10 6.8l-10 8.6l-10 10.6l-4.1 5.5l-6.7 10l-5 10l-3.9 10l-2.4 10l-1.2 10l0 10l1.4 10l2 7.2l.8 2.8l4.7 10.1l4.5 6.8l2.4 3.2l7.5 7.8l2.7 2.2l7.3 5l10 4.9ZM984.1 213.6l10 2.4l10 .2l10 -2.2l10 -4.4l10 -7.4l10 -10.7l5.9 -8.8l5 -10l3.6 -10l2.3 -10l1.1 -10l0 -10l-1.1 -10l-2.2 -10l-3.4 -10l-4.7 -10.1l-6.4 -10l-8.5 -10l-11.7 -10l-9.9 -5.9l-9.3 -4.1l-10.7 -3l-10 -1.3l-10 0l-10 1.4l-9.8 2.9l-10.2 5l-7.3 5l-2.7 2.2l-7.5 7.8l-2.4 3.2l-4.5 6.8l-4.7 10l-2.8 10.1l-1.4 10l0 10l1.2 10l2.2 9.1l4.1 10.9l5.9 11.5l9.9 14l10 10.6l10 8.6l10 6.8l10 5.5Z" fill="#e48b3e"/>
<path d="M964.1 443.7l10 1.5l10 -.2l10 -1.8l10 -4l10.7 -6.3l10.7 -10l7.1 -10.1l4.9 -10l3 -10l1.5 -10l0 -10l-1.5 -10l-3.2 -10l-3.2 -6.5l-2.1 -3.5l-7.9 -9.7l-10 -7.6l-10 -4.5l-10 -2.1l-10 0l-10 1.9l-10 3.9l-10 5.9l-10 8.4l-3.4 3.8l-6.6 8.4l-6.1 11.6l-3.6 10l-1.7 10l-.1 10l1.4 10l3.5 10l5.7 10.1l9.5 10l1.4 1.2l10 6ZM974.1 184.7l10 1.9l10 0l10 -2.1l10 -4.5l9.6 -7.3l8.3 -10l2.1 -3.5l3.2 -6.5l3.2 -10l1.5 -10l0 -10l-1.5 -10l-3 -10l-4.9 -10.1l-7.1 -10l-10.7 -10l-10.7 -6.4l-10 -3.9l-10 -1.9l-10 -.2l-10 1.6l-10 3.6l-10 6l-1.4 1.2l-9.5 10l-5.7 10l-3.5 10.1l-1.4 10l.1 10l1.7 10l3.6 10l6.1 11.6l6.6 8.4l3.4 3.8l10 8.4l10 5.9Z" fill="#dc653b"/>
<path d="M954.1 424.5l10 4.8l10 2l10 -.5l10 -3.1l8.9 -4.8l1.1 -.9l9.1 -9.2l.9 -1.4l4.8 -8.6l3.1 -10l.9 -10l-1.4 -10l-3.8 -10l-3.6 -5.7l-3.8 -4.3l-6.2 -5.1l-10 -4.8l-10 -1.6l-10 1l-10 3.6l-10 6.4l-10 11.3l-4.5 9.2l-2.8 10l-.4 10l1.9 10l4.4 10l1.4 2l7.8 8.1ZM974.1 163.2l10 .9l10 -1.5l10 -4.8l6.2 -5.1l3.8 -4.3l3.6 -5.7l3.8 -10l1.4 -10l-.9 -10l-3.1 -10l-5.7 -10.1l-9.1 -9.1l-1.1 -.9l-8.9 -4.8l-10 -3.1l-10 -.6l-10 2.1l-10 4.8l-2.2 1.6l-7.8 8.1l-1.4 1.9l-4.4 10.1l-1.9 10l.4 10l2.8 10l5.1 10l9.4 10.5l10 6.4Z" fill="#d84f6e"/>
<path d="M964.1 406.8l10 4.3l10 -1.5l9.8 -6.8l4.3 -10l-.2 -10l-3.9 -8.3l-1.6 -1.7l-8.4 -4.7l-10 -.2l-10.2 4.9l-6.2 10l-1.4 10l4 10ZM964.1 132.9l10 4.7l10 -.2l8.4 -4.7l1.6 -1.7l3.9 -8.3l.2 -10l-4.3 -10l-9.8 -6.8l-10 -1.5l-10 4.3l-3.8 4l-4 10l1.4 10Z" fill="#a8619a"/>
</g>
</g>
<rect x="864.20" y="12.60" width="489.60" height="490.30" fill="none" stroke="#000" stroke-width="1.9"/>
<path d="M874.19 502.90V510.40M864.20 492.89H856.70M994.09 502.90V510.40M864.20 372.82H856.70M1114.00 502.90V510.40M864.20 252.75H856.70M1233.90 502.90V510.40M864.20 132.67H856.70M1353.80 502.90V510.40M864.20 12.60H856.70" stroke="#000" stroke-width="1.8" fill="none"/>
<text x="868.74" y="537.90" text-anchor="middle">-480</text>
<text x="990.49" y="537.90" text-anchor="middle">-240</text>
<text x="1115.90" y="537.90" text-anchor="middle">0</text>
<text x="1235.60" y="537.90" text-anchor="middle">240</text>
<text x="1355.65" y="537.90" text-anchor="middle">480</text>
<text x="853.00" y="22.25" text-anchor="end">480</text>
<text x="853.00" y="143.55" text-anchor="end">240</text>
<text x="853.00" y="264.45" text-anchor="end">0</text>
<text x="853.00" y="385.65" text-anchor="end">-240</text>
<text x="853.00" y="505.15" text-anchor="end">-480</text>
<text x="1115.40" y="567.40" text-anchor="middle"><tspan font-style="italic">x</tspan>/m</text>
<text transform="translate(784.90 257.90) rotate(-90)" text-anchor="middle"><tspan font-style="italic">y</tspan>/m</text>
<text x="714.85" y="27.30" style="font-size:29.5px">(b)</text>
<rect x="1376.10" y="484.45" width="20.10" height="22.05" fill="#533a78"/>
<rect x="1376.10" y="462.71" width="20.10" height="22.05" fill="#545587"/>
<rect x="1376.10" y="440.96" width="20.10" height="22.05" fill="#6d9dc6"/>
<rect x="1376.10" y="419.21" width="20.10" height="22.05" fill="#a5ccc0"/>
<rect x="1376.10" y="397.47" width="20.10" height="22.05" fill="#8dbf8a"/>
<rect x="1376.10" y="375.72" width="20.10" height="22.05" fill="#76b65e"/>
<rect x="1376.10" y="353.97" width="20.10" height="22.05" fill="#7ab65a"/>
<rect x="1376.10" y="332.23" width="20.10" height="22.05" fill="#95c453"/>
<rect x="1376.10" y="310.48" width="20.10" height="22.05" fill="#e8db4f"/>
<rect x="1376.10" y="288.73" width="20.10" height="22.05" fill="#e8b446"/>
<rect x="1376.10" y="266.99" width="20.10" height="22.05" fill="#e48b3e"/>
<rect x="1376.10" y="245.24" width="20.10" height="22.05" fill="#dc653b"/>
<rect x="1376.10" y="223.49" width="20.10" height="22.05" fill="#d84f6e"/>
<rect x="1376.10" y="201.75" width="20.10" height="22.05" fill="#a8619a"/>
<rect x="1376.10" y="180.00" width="20.10" height="22.05" fill="#9c6898"/>
<path d="M1376.10 484.45H1396.20M1376.10 462.71H1396.20M1376.10 440.96H1396.20M1376.10 419.21H1396.20M1376.10 397.47H1396.20M1376.10 375.72H1396.20M1376.10 353.97H1396.20M1376.10 332.23H1396.20M1376.10 310.48H1396.20M1376.10 288.73H1396.20M1376.10 266.99H1396.20M1376.10 245.24H1396.20M1376.10 223.49H1396.20M1376.10 201.75H1396.20" stroke="#505050" stroke-width="1" stroke-opacity="0.6" fill="none"/>
<rect x="1376.10" y="180.00" width="20.10" height="326.20" fill="none" stroke="#000" stroke-width="1.8"/>
<text x="1406.20" y="516.45">0.4</text>
<text x="1406.20" y="472.85">0.5</text>
<text x="1406.20" y="429.95">0.6</text>
<text x="1406.20" y="386.95">0.7</text>
<text x="1406.20" y="343.05">0.8</text>
<text x="1406.20" y="300.05">0.9</text>
<text x="1406.20" y="253.95">1.0</text>
<text x="1406.20" y="210.35">1.1</text>
<path d="M1396.20 506.20H1402.20M1396.20 462.71H1402.20M1396.20 419.21H1402.20M1396.20 375.72H1402.20M1396.20 332.23H1402.20M1396.20 288.73H1402.20M1396.20 245.24H1402.20M1396.20 201.75H1402.20" stroke="#000" stroke-width="1.6" fill="none"/>
<text transform="translate(1482.30 355.80) rotate(-90)" text-anchor="middle">&#916;<tspan font-style="italic">T</tspan>/nT</text>
<clipPath id="clipc"><rect x="114.70" y="593.20" width="490.00" height="488.90"/></clipPath>
<g clip-path="url(#clipc)">
<rect x="114.70" y="593.20" width="490.00" height="488.90" fill="#4f3b75"/>
<g stroke="#505050" stroke-width="1.15" stroke-opacity="0.72" stroke-linejoin="round">
<path d="M424.4 656.6C427.0 656.0 428.5 658.4 432.0 660.7C435.6 663.0 441.3 668.4 445.9 670.4C450.5 672.4 453.9 672.3 459.7 672.8C465.4 673.3 475.2 672.4 480.4 673.5C485.6 674.7 487.3 677.5 490.8 679.7C494.2 681.9 498.0 685.7 501.1 686.6C504.3 687.6 506.0 686.4 509.8 685.6C513.5 684.9 519.3 680.8 523.6 682.2C527.9 683.5 533.8 689.1 535.7 693.6C537.6 698.1 534.7 702.5 535.0 709.1C535.3 715.7 536.2 724.7 537.4 733.3C538.7 741.9 541.5 752.9 542.6 760.9C543.8 769.0 544.6 774.8 544.3 781.7C544.1 788.6 542.3 796.1 540.9 802.4C539.4 808.7 536.9 814.5 535.7 819.7C534.5 824.9 533.4 828.3 534.0 833.5C534.5 838.7 537.6 845.0 539.2 850.8C540.7 856.5 542.4 861.7 543.3 868.1C544.2 874.4 544.5 880.7 544.3 888.8C544.2 896.9 543.2 908.4 542.6 916.4C542.0 924.5 543.8 929.7 540.9 937.2C538.0 944.7 529.7 958.8 525.3 961.4C521.0 963.9 517.6 951.6 515.0 952.7C512.4 953.9 511.5 962.8 509.8 968.3C508.1 973.7 508.9 980.9 504.6 985.5C500.3 990.1 489.9 994.5 483.9 995.9C477.8 997.3 474.1 993.9 468.3 994.2C462.6 994.5 454.5 995.6 449.3 997.6C444.1 999.7 441.3 1003.1 437.2 1006.3C433.2 1009.4 428.0 1015.8 425.1 1016.6C422.2 1017.5 421.2 1014.9 419.9 1011.5C418.7 1008.0 418.4 1001.1 417.5 995.9C416.7 990.7 416.7 982.4 414.8 980.4C412.9 978.3 410.2 983.1 406.1 983.8C402.1 984.6 394.9 986.0 390.6 984.9C386.3 983.7 382.5 980.0 380.2 976.9C377.9 973.9 377.0 970.6 376.8 966.5C376.5 962.5 379.3 956.5 378.5 952.7C377.6 949.0 374.7 946.7 371.6 944.1C368.4 941.5 364.4 939.2 359.5 937.2C354.6 935.2 346.8 935.4 342.2 932.0C337.6 928.5 334.7 921.6 331.8 916.4C329.0 911.3 327.5 906.1 324.9 900.9C322.3 895.7 319.4 890.2 316.3 885.3C313.1 880.4 308.8 876.4 305.9 871.5C303.0 866.6 299.3 860.6 299.0 856.0C298.7 851.4 303.0 848.2 304.2 843.9C305.3 839.6 306.5 833.5 305.9 830.0C305.3 826.6 302.5 825.7 300.7 823.1C299.0 820.5 295.0 818.0 295.5 814.5C296.1 811.0 300.4 807.3 304.2 802.4C307.9 797.5 314.0 790.9 318.0 785.1C322.0 779.4 325.2 773.6 328.4 767.9C331.5 762.1 333.6 756.3 337.0 750.6C340.5 744.8 343.9 739.3 349.1 733.3C354.3 727.2 364.7 720.9 368.1 714.3C371.6 707.7 367.2 697.8 369.8 693.6C372.4 689.4 378.8 690.0 383.7 689.1C388.6 688.1 394.9 688.7 399.2 687.7C403.5 686.7 407.7 685.7 409.6 683.2C411.5 680.7 409.5 676.0 410.6 672.8C411.8 669.7 414.2 666.9 416.5 664.2C418.8 661.5 421.8 657.2 424.4 656.6ZM513.9 684.9C515.0 684.9 516.4 689.2 517.0 691.8C517.7 694.4 518.1 697.6 517.7 700.5C517.4 703.3 516.0 708.9 515.0 709.1C513.9 709.3 512.2 704.4 511.5 701.5C510.8 698.6 510.4 694.6 510.8 691.8C511.2 689.1 512.9 684.9 513.9 684.9ZM461.4 971.7C463.4 969.1 468.6 966.2 471.8 966.5C474.9 966.8 477.5 970.6 480.4 973.4C483.3 976.3 490.2 981.2 489.1 983.8C487.9 986.4 477.8 988.0 473.5 989.0C469.2 990.0 465.4 990.8 463.1 989.7C460.8 988.5 460.0 985.1 459.7 982.1C459.4 979.1 459.4 974.3 461.4 971.7ZM584.1 785.1C586.1 787.4 588.2 795.5 589.3 802.4C590.3 809.3 590.3 816.8 590.3 826.6C590.3 836.4 590.2 851.9 589.3 861.1C588.3 870.4 586.8 879.0 584.8 881.9C582.8 884.8 580.4 880.4 577.2 878.4C573.9 876.4 568.1 873.2 565.1 869.8C562.1 866.3 560.5 863.7 559.2 857.7C557.9 851.6 557.9 842.1 557.5 833.5C557.0 824.9 554.9 812.2 556.4 805.9C558.0 799.5 563.3 798.4 566.8 795.5C570.3 792.6 574.3 790.3 577.2 788.6C580.0 786.9 582.1 782.8 584.1 785.1ZM584.1 722.9C585.6 722.9 588.2 732.7 588.6 740.2C589.0 747.7 587.2 761.5 586.5 767.9C585.7 774.2 584.9 778.2 584.1 778.2C583.2 778.2 582.1 774.2 581.3 767.9C580.5 761.5 578.8 747.7 579.2 740.2C579.7 732.7 582.5 722.9 584.1 722.9Z" fill="#4d487e" fill-rule="evenodd"/>
<path d="M204.7 1053.8l10 .9l10 -.9l5.8 -1.6l4.2 -.7l10 -3.2l10 -6.3l10 -7.5l2.4 -2.3l8.3 -10l7.1 -9.9l2.2 -4.6l3.6 -5.4l4.8 -10l1.6 -5l2.5 -5l2.9 -10l.2 -9.9l-3 -10l-7 -10l-5.6 -4.7l-10 -6.8l-10 -5.9l-10 -5.1l-10 -4.4l-20 -4.8l-10 -.8l-10 .9l-5.9 1.7l-4.1 .7l-10 3.1l-10 6.4l-10 7.7l-2 2l-7.8 10l-6.4 10l-3.1 10l-.7 4.1l-1.6 5.8l-1 10l1 10l1.6 5.8l.7 4.2l3.1 10l6.4 9.9l7.8 10l2 2l10 7.8l10 6.3l10 3.2l4.2 .7ZM204.7 754.5l10 .9l10 -.7l7.1 -1.9l2.9 -.4l10 -2.5l10 -4.5l10 -5.1l12.5 -7.4l7.5 -5.3l5.6 -4.7l7 -10l3 -9.9l-.2 -10l-2.9 -10l-2.5 -4.9l-1.6 -5.1l-4.8 -10l-3.6 -5.4l-2.2 -4.5l-7.1 -10l-8.3 -10l-2.4 -2.3l-10 -7.5l-10 -6.3l-10 -3.2l-4.2 -.6l-5.8 -1.7l-10 -.9l-10 .9l-5.8 1.7l-4.2 .6l-10 3.2l-10 6.3l-10 7.8l-2 2l-7.8 10l-6.4 10l-3.1 9.9l-.7 4.2l-1.6 5.8l-1 10l1 10l1.6 5.8l.7 4.2l3.1 9.9l6.4 10l7.8 10l2 2l10 7.8l10 6.3l10 3.2l4.1 .6Z" fill="#4d487e"/>
<path d="M184.7 1032.8l10 5.2l10 2.5l10 .7l10 -.7l10 -2.5l10 -5.2l10 -7.1l3.6 -3.5l7.8 -9.9l5.8 -10l3.3 -10l2.8 -10l.5 -10l-2.2 -9.9l-5 -10l-9.2 -10l-7.4 -5.8l-10 -5.9l-10 -4.4l-10 -2.2l-10 -.7l-10 .8l-10 2.4l-10 5.3l-10 7.2l-3.3 3.3l-7.3 10l-5.2 10l-2.5 9.9l-.7 10l.7 10l2.5 10l5.2 10l7.3 9.9l3.3 3.3ZM184.7 733.5l10 5.2l10 2.4l10 .8l10 -.7l10 -2.1l10 -4.5l10 -5.8l7.4 -5.9l9.2 -10l5 -9.9l2.2 -10l-.5 -10l-2.8 -10l-3.3 -10l-5.8 -9.9l-7.8 -10l-3.6 -3.5l-10 -7.1l-10 -5.2l-10 -2.4l-10 -.8l-10 .8l-10 2.4l-10 5.2l-10 7.3l-3.3 3.3l-7.3 10l-5.2 9.9l-2.5 10l-.7 10l.7 10l2.5 10l5.2 9.9l7.3 10l3.3 3.3Z" fill="#6c88b8"/>
<path d="M204.7 1032.8l10 1.2l10 -1.2l10 -2.8l10 -5.7l2.6 -2.1l7.4 -7.1l2.4 -2.8l6.1 -10l1.5 -4.6l2.3 -5.4l2 -10l-.2 -10l-3.3 -9.9l-5.7 -10l-5.1 -5.2l-5.6 -4.8l-4.4 -3.1l-10 -4.9l-10 -2.7l-10 -1.1l-10 1.3l-10 2.8l-10 5.7l-2.4 2l-7.6 7.6l-2 2.4l-5.7 10l-2.9 9.9l-1.1 10l1.1 10l2.9 10l5.7 10l2 2.4l7.6 7.5l2.4 2l10 5.7ZM204.7 733.5l10 1.2l10 -1.1l10 -2.6l10 -5l4.4 -3.1l5.6 -4.8l5.1 -5.2l5.7 -9.9l3.3 -10l.2 -10l-2 -10l-2.3 -5.4l-1.5 -4.6l-6.1 -9.9l-2.4 -2.9l-7.4 -7.1l-2.6 -2.1l-10 -5.6l-10 -2.8l-10 -1.2l-10 1.2l-10 2.8l-10 5.7l-2.4 2l-7.6 7.5l-2 2.5l-5.7 9.9l-2.9 10l-1.1 10l1.1 10l2.9 10l5.7 9.9l2 2.5l7.6 7.5l2.4 2l10 5.7Z" fill="#a6cdc8"/>
<path d="M194.7 1023.9l10 3.7l10 1.1l10 -1.1l10 -3.7l10 -6.4l5.3 -5.2l7 -10l4.1 -10l1.5 -10l-.6 -10l-3.3 -9.9l-7.2 -10l-6.8 -6.1l-10 -6l-10 -3.4l-10 -.9l-10 1.1l-10 3.7l-10 6.5l-5.1 5.1l-6.5 10l-3.7 9.9l-1.1 10l1.1 10l3.7 10l6.5 10l5.1 5ZM194.7 724.6l10 3.7l10 1.1l10 -1l10 -3.4l10 -5.9l6.8 -6.2l7.2 -9.9l3.3 -10l.6 -10l-1.5 -10l-4.1 -10l-7 -9.9l-5.3 -5.2l-10 -6.5l-10 -3.7l-10 -1l-10 1.1l-10 3.6l-10 6.6l-5.1 5.1l-6.5 9.9l-3.7 10l-1.1 10l1.1 10l3.7 10l6.5 9.9l5.1 5.1Z" fill="#90c39e"/>
<path d="M204.7 1022.6l10 1.4l10 -1.4l10 -3.8l8.8 -6.5l1.2 -1.2l6.9 -8.8l4.3 -10l1.8 -10l-1 -10l-4 -9.9l-8.2 -10l-9.8 -7l-10 -3.5l-10 -1.3l-10 1.5l-10 3.7l-8.7 6.6l-1.3 1.3l-6.6 8.7l-3.7 9.9l-1.4 10l1.4 10l3.7 10l6.6 8.6l1.3 1.4l8.7 6.5ZM204.7 723.3l10 1.4l10 -1.3l10 -3.5l10 -7.1l8 -9.8l4 -10l1 -10l-1.8 -10l-4.3 -10l-6.9 -8.8l-1.2 -1.1l-8.8 -6.6l-10 -3.8l-10 -1.3l-10 1.4l-10 3.7l-8.7 6.6l-1.3 1.3l-6.6 8.6l-3.7 10l-1.4 10l1.4 10l3.7 10l6.6 8.6l1.3 1.3l8.7 6.6Z" fill="#77b56b"/>
<path d="M194.7 1014.1l10 4.5l10 1.3l10 -1.3l10 -4.4l2.5 -1.9l7.5 -7.3l2.2 -2.7l4.7 -10l1.6 -10l-1.1 -10l-4.4 -9.9l-3 -3.7l-6.8 -6.3l-3.2 -2.3l-10 -4.2l-10 -1.2l-10 1.3l-10 4.5l-2.4 1.9l-7.6 7.5l-1.8 2.5l-4.6 9.9l-1.3 10l1.3 10l4.6 10l1.8 2.4l7.6 7.6ZM194.7 714.8l10 4.5l10 1.4l10 -1.3l10 -4.2l3.2 -2.3l6.8 -6.3l3 -3.6l4.4 -10l1.1 -10l-1.6 -10l-4.7 -10l-2.2 -2.7l-7.5 -7.2l-2.5 -1.9l-10 -4.5l-10 -1.3l-10 1.3l-10 4.5l-2.4 1.9l-7.6 7.5l-1.8 2.4l-4.6 10l-1.3 10l1.3 10l4.6 10l1.8 2.4l7.6 7.5Z" fill="#6fb453"/>
<path d="M204.7 1014.7l10 1.6l10 -1.6l5.2 -2.4l4.8 -2.7l7.5 -7.3l5.4 -10l1.8 -10l-1.3 -10l-3.4 -6.7l-1.9 -3.2l-8.1 -7.7l-10 -4.9l-10 -1.5l-10 1.6l-5.1 2.5l-4.9 2.7l-7.3 7.3l-5.2 9.9l-1.5 10l1.5 10l2.5 5.1l2.7 4.9l7.3 7.2ZM204.7 715.4l10 1.6l10 -1.4l5.7 -2.7l4.3 -2.2l8.1 -7.7l5.3 -10l1.3 -10l-1.8 -10l-2.9 -5.7l-2.5 -4.3l-7.5 -7.3l-10 -5.1l-10 -1.6l-10 1.6l-5.1 2.5l-4.9 2.7l-7.3 7.2l-5.2 10l-1.5 10l1.5 10l2.5 5.1l2.7 4.9l7.3 7.2Z" fill="#7dba52"/>
<path d="M214.7 1012.6l10 -1.7l10 -5.8l2.9 -2.8l6.1 -10l2 -10l-1.7 -10l-5.9 -9.9l-3.4 -3.2l-10 -5.6l-10 -1.7l-10 1.8l-10 5.9l-2.7 2.8l-5.9 9.9l-1.8 10l1.8 10l5.9 10l2.7 2.7l10 5.9ZM214.7 713.4l10 -1.7l10 -5.5l3.4 -3.2l5.9 -10l1.7 -10l-2 -10l-6.1 -10l-2.9 -2.8l-10 -5.8l-10 -1.7l-10 1.7l-10 5.9l-2.7 2.7l-5.9 10l-1.8 10l1.8 10l5.9 10l2.7 2.7l10 5.9Z" fill="#b5d24e"/>
<path d="M204.7 1007.2l10 1.9l10 -1.9l7.8 -4.9l2.2 -2.1l5.2 -7.9l2.1 -10l-1.8 -10l-5.5 -8.3l-1.7 -1.6l-8.3 -5.1l-10 -1.8l-10 2l-7.7 4.9l-2.3 2.3l-4.9 7.6l-2 10l2 10l4.9 7.7l2.3 2.3ZM204.7 707.9l10 2l10 -1.9l8.3 -5l1.7 -1.7l5.5 -8.3l1.8 -10l-2.1 -10l-5.2 -7.9l-2.2 -2.1l-7.8 -4.9l-10 -1.9l-10 1.9l-7.7 4.9l-2.3 2.3l-4.9 7.7l-2 10l2 10l4.9 7.7l2.3 2.3Z" fill="#ecd34c"/>
<path d="M204.7 1003.5l10 2.1l10 -2.1l1.9 -1.2l8.1 -7.9l1.4 -2.1l2.3 -10l-2.1 -10l-1.6 -2.4l-7.8 -7.5l-2.2 -1.4l-10 -2l-10 2.2l-1.9 1.2l-8.1 8.1l-1.2 1.8l-2.2 10l2.2 10l1.2 1.8l8.2 8.2ZM204.7 704.1l10 2.3l10 -2.1l2.2 -1.3l7.8 -7.6l1.6 -2.4l2.1 -10l-2.3 -10l-1.4 -2.1l-8.1 -7.9l-1.9 -1.2l-10 -2.1l-10 2.2l-1.8 1.1l-8.2 8.2l-1.2 1.8l-2.2 10l2.2 10l1.2 1.8l8.1 8.2Z" fill="#e9a244"/>
<path d="M204.7 999l10 3.1l10 -3l6.9 -6.8l3.1 -9.4l0 -1.2l-2.9 -9.4l-7.1 -6.9l-10 -2.9l-10 3.1l-6.7 6.7l-3.1 10l3.1 10ZM204.7 699.7l10 3.2l10 -3l7.1 -6.9l2.9 -9.4l0 -1.2l-3.1 -9.4l-6.9 -6.7l-10 -3.1l-10 3.1l-6.7 6.7l-3.1 10l3.1 10Z" fill="#e37c3a"/>
<path d="M204.7 994.2l10 3.4l10 -3.3l2 -2l3.6 -10l-3.5 -10l-2.1 -2l-10 -3.3l-10 3.5l-1.9 1.8l-3.4 10l3.4 10ZM204.7 694.9l10 3.4l10 -3.3l2.1 -2l3.5 -10l-3.6 -10l-2 -1.9l-10 -3.4l-10 3.5l-1.9 1.8l-3.4 10l3.4 10Z" fill="#dc5b4a"/>
<path d="M214.7 993.1l2.3 -.8l7.7 -7.4l.9 -2.6l-.9 -2.6l-7.6 -7.4l-2.4 -.8l-2.3 .8l-7.7 7.8l-.8 2.2l.8 2.2l7.8 7.8ZM214.7 693.8l2.4 -.8l7.6 -7.4l.9 -2.6l-.9 -2.5l-7.7 -7.5l-2.3 -.8l-2.2 .8l-7.8 7.8l-.8 2.2l.8 2.2l7.7 7.8Z" fill="#d24d8c"/>
<path d="M214.7 982.5l0 -.3ZM214.7 683.2l0 -.4Z" fill="#a06a9c"/>
</g>
</g>
<rect x="114.70" y="593.20" width="490.00" height="488.90" fill="none" stroke="#000" stroke-width="1.9"/>
<path d="M124.70 1082.10V1089.60M114.70 1072.12H107.20M244.70 1082.10V1089.60M114.70 952.39H107.20M364.70 1082.10V1089.60M114.70 832.66H107.20M484.70 1082.10V1089.60M114.70 712.93H107.20M604.70 1082.10V1089.60M114.70 593.20H107.20" stroke="#000" stroke-width="1.8" fill="none"/>
<text x="118.10" y="1119.30" text-anchor="middle">-480</text>
<text x="239.90" y="1119.30" text-anchor="middle">-240</text>
<text x="365.80" y="1119.30" text-anchor="middle">0</text>
<text x="485.45" y="1119.30" text-anchor="middle">240</text>
<text x="605.70" y="1119.30" text-anchor="middle">480</text>
<text x="101.10" y="604.35" text-anchor="end">480</text>
<text x="101.10" y="725.65" text-anchor="end">240</text>
<text x="101.10" y="846.15" text-anchor="end">0</text>
<text x="101.10" y="967.45" text-anchor="end">-240</text>
<text x="101.10" y="1087.25" text-anchor="end">-480</text>
<text x="365.40" y="1149.40" text-anchor="middle"><tspan font-style="italic">x</tspan>/m</text>
<text transform="translate(32.80 840.10) rotate(-90)" text-anchor="middle"><tspan font-style="italic">y</tspan>/m</text>
<text x="-0.75" y="599.20" style="font-size:29.5px">(c)</text>
<rect x="623.70" y="1065.07" width="19.90" height="22.03" fill="#4f3b75"/>
<rect x="623.70" y="1043.35" width="19.90" height="22.03" fill="#4d487e"/>
<rect x="623.70" y="1021.62" width="19.90" height="22.03" fill="#6c88b8"/>
<rect x="623.70" y="999.89" width="19.90" height="22.03" fill="#a6cdc8"/>
<rect x="623.70" y="978.17" width="19.90" height="22.03" fill="#90c39e"/>
<rect x="623.70" y="956.44" width="19.90" height="22.03" fill="#77b56b"/>
<rect x="623.70" y="934.71" width="19.90" height="22.03" fill="#6fb453"/>
<rect x="623.70" y="912.99" width="19.90" height="22.03" fill="#7dba52"/>
<rect x="623.70" y="891.26" width="19.90" height="22.03" fill="#b5d24e"/>
<rect x="623.70" y="869.53" width="19.90" height="22.03" fill="#ecd34c"/>
<rect x="623.70" y="847.81" width="19.90" height="22.03" fill="#e9a244"/>
<rect x="623.70" y="826.08" width="19.90" height="22.03" fill="#e37c3a"/>
<rect x="623.70" y="804.35" width="19.90" height="22.03" fill="#dc5b4a"/>
<rect x="623.70" y="782.63" width="19.90" height="22.03" fill="#d24d8c"/>
<rect x="623.70" y="760.90" width="19.90" height="22.03" fill="#a06a9c"/>
<path d="M623.70 1065.07H643.60M623.70 1043.35H643.60M623.70 1021.62H643.60M623.70 999.89H643.60M623.70 978.17H643.60M623.70 956.44H643.60M623.70 934.71H643.60M623.70 912.99H643.60M623.70 891.26H643.60M623.70 869.53H643.60M623.70 847.81H643.60M623.70 826.08H643.60M623.70 804.35H643.60M623.70 782.63H643.60" stroke="#505050" stroke-width="1" stroke-opacity="0.6" fill="none"/>
<rect x="623.70" y="760.90" width="19.90" height="325.90" fill="none" stroke="#000" stroke-width="1.8"/>
<text x="654.60" y="1096.95">0</text>
<text x="654.60" y="1054.25">2</text>
<text x="654.60" y="1012.15">4</text>
<text x="654.60" y="968.25">6</text>
<text x="654.60" y="923.25">8</text>
<text x="654.60" y="881.25">10</text>
<text x="654.60" y="837.25">12</text>
<text x="654.60" y="794.05">14</text>
<path d="M643.60 1086.80H649.60M643.60 1043.35H649.60M643.60 999.89H649.60M643.60 956.44H649.60M643.60 912.99H649.60M643.60 869.53H649.60M643.60 826.08H649.60M643.60 782.63H649.60" stroke="#000" stroke-width="1.6" fill="none"/>
<text transform="translate(717.90 910.80) rotate(-90)" text-anchor="middle">&#916;<tspan font-style="italic">T</tspan>/nT</text>
<clipPath id="clipd"><rect x="863.90" y="591.90" width="489.90" height="489.80"/></clipPath>
<g clip-path="url(#clipd)">
<rect x="863.90" y="591.90" width="489.90" height="489.80" fill="#4f3b75"/>
<g stroke="#505050" stroke-width="1.15" stroke-opacity="0.72" stroke-linejoin="round">
<path d="M873.9 1081.7l419.8 0l10.1 -7l10 -7.7l10 -8.8l6.7 -6.5l9.3 -10l4 -4.7l10 -13.2l0 -382.3l-10 -12.9l-5.8 -6.7l-9.7 -10l-11.1 -10l-12.8 -10l-440.5 0l0 489.8Z" fill="#6b91bf"/>
<path d="M873.9 1081.7l363.1 0l6.8 -3l14.2 -7l17.1 -10l8.7 -5.9l10 -7.6l10 -8.6l8.1 -7.9l11.9 -13.6l4.9 -6.4l6.9 -10l8.2 -13.8l3.2 -6.2l6.8 -14.9l0 -269.8l-7.1 -15.1l-2.9 -5.3l-9 -14.7l-7.2 -10l-3.8 -4.7l-4.5 -5.3l-9.4 -10l-11 -10l-5.1 -4.1l-10 -7.5l-12.9 -8.4l-18.4 -10l-387.6 0l-1 1l0 480.6l9.5 8.2Z" fill="#9dc9ac"/>
<path d="M903.9 1077.6l6.7 4.1l244.4 0l18.8 -5.7l20 -6.8l20 -7.9l20.1 -9.6l17.2 -10l14.3 -10l12.1 -10l10.2 -10l6.1 -6.8l10.3 -13.2l6.5 -10l5.7 -10l4.9 -10l4.3 -9.9l3.6 -10l3.3 -10l2.7 -10l2.3 -10l3.5 -20l2.5 -20l.8 -10l.6 -10l.5 -20l-.4 -20l-.5 -10l-.7 -10l-2.3 -20l-3.6 -20l-2.3 -10l-2.8 -10l-3.3 -10l-5.6 -14.1l-2.6 -5.8l-5.2 -10l-5.9 -10l-6.9 -10l-9.4 -11.6l-7.9 -8.4l-10.8 -10l-11.3 -8.8l-10 -6.8l-10 -6.1l-10 -5.5l-10 -4.9l-18.3 -7.9l-27.8 -10l-279.9 0l-12.1 10l-11.8 12.1l-6.6 7.9l-3.4 4.7l0 413.7l9.5 11.4l10 10l10.5 8.8Z" fill="#6db75d"/>
<path d="M943.9 1075.4l10 3.4l10.6 2.9l91.2 0l18.2 -3.6l20 -4.9l19.9 -5.6l18.8 -5.9l27.9 -10l23.7 -10l20 -10l16.8 -10l14.1 -10l11.8 -10l10 -10l6.9 -8l10 -13.7l5.1 -8.3l5.3 -9.9l4.4 -10l3.9 -10l3.2 -10l2.7 -10l2.2 -10l3.4 -20l1.2 -10l1.6 -20l.4 -10l.1 -20l-.9 -20l-.9 -10l-2.6 -20l-1.9 -10l-2.3 -10l-2.7 -10l-3.3 -10l-4.1 -10l-4.6 -9.9l-5.6 -10l-4.6 -7.2l-10 -13.3l-8.7 -9.5l-10.7 -10l-12.7 -10l-15.1 -10l-12.8 -7.2l-10 -5.1l-16.5 -7.7l-13.5 -5.5l-11.4 -4.5l-28.6 -10l-33.3 -10l-153.1 0l-3.5 1.6l-10 5.4l-4.8 3l-5.2 3.5l-8.3 6.5l-11.7 11.3l-7.4 8.7l-7.2 10l-6 10l-5 10l-4.4 10.4l0 323.4l2.6 6l5 10l6 10l7.1 10l9.3 10.7l10 9.4l10 7.7l3.3 2.2l6.7 4.1l10 5.3Z" fill="#7cbb52"/>
<path d="M973.9 1062.7l10 1.6l10 .9l10 .3l10 -.2l10 -.8l10 -1.3l10 -1.7l10 -2.1l20 -5.3l10 -3.1l20 -7.1l9.9 -3.9l19.2 -8.3l20.3 -10l10.5 -5.9l7.1 -4.1l15.2 -10l13 -10l4.7 -4.1l6.4 -5.9l9.4 -10l8 -10l6.8 -9.9l5.6 -10l4.9 -10l4 -10l3.3 -10l2.8 -10l2.3 -10l1.8 -10l2.5 -20l1.2 -20l.1 -20l-.4 -10l-1.8 -20l-1.5 -10l-1.8 -10l-2.3 -10l-2.9 -10l-3.6 -10l-4.2 -10l-5.1 -10l-6.1 -9.9l-7.2 -10l-8.6 -10l-10 -10l-3.6 -3.1l-8.3 -6.9l-13.9 -10l-17.8 -11l-16.6 -9l-13.4 -6.5l-7.5 -3.5l-23.7 -10l-28.1 -10l-20.6 -5.8l-10 -2.3l-10 -2l-10 -1.4l-10 -.9l-10 -.4l-10 .1l-10 .9l-10 1.5l-10 2.4l-10 3.3l-10 4.2l-10 5.6l-10 6.9l-9.1 7.9l-9.1 10l-7.3 10l-6 10l-4.8 10l-4 10l-3.1 10l-2.6 10l-1.9 10l-1.5 9.9l-1.1 10l-.8 10l-.7 20l.2 70l-.9 60l.1 20l1.1 20l1 10l1.4 10l1.9 9.9l2.5 10l3.2 10l1.5 4l2.4 6l4.8 10l6 10l6.8 9.4l9.6 10.6l11.9 10l8.5 5.7l7.8 4.3l12.2 5.3l10 3.3Z" fill="#e6dc48"/>
<path d="M993.9 1042.6l10 .2l10 -.5l10 -1.2l10 -1.9l10 -2.4l10 -2.9l10 -3.4l10 -4l11.1 -4.8l18.9 -9.5l17.6 -10.5l14.7 -10l7.6 -5.9l5.2 -4.1l11.1 -10l9.6 -10l4.1 -5l4.1 -4.9l7 -10l5.9 -10l3 -6l2 -4l4.2 -10l3.8 -11.3l2.5 -8.7l2.2 -10l1.8 -10l1.3 -10l.9 -10l.5 -10l.2 -10l-.2 -10l-.6 -10l-1 -10l-1.4 -10l-1.8 -10l-2.4 -10l-3.1 -10l-3.7 -10l-4.4 -10l-5.4 -10l-6.3 -10l-7.5 -9.9l-8.8 -10l-12.8 -12.3l-9 -7.7l-13.3 -10l-15 -10l-12.6 -7.5l-4.5 -2.5l-15.5 -7.9l-10 -4.6l-10 -4.1l-10 -3.8l-10 -3.1l-10 -2.6l-10 -2l-10 -1.5l-10 -.7l-10 .1l-10 .9l-10 2l-10 2.9l-10 4.1l-10 5.9l-6.1 4.4l-3.9 3.2l-6.9 6.8l-3.1 3.6l-4.8 6.4l-6.2 10l-4.8 10l-4.2 11.6l-2.3 8.4l-2.1 10l-1.5 9.9l-1 10l-.8 20l.2 20l1.2 40l.2 20l-.3 20l-1.7 50l.1 20l.5 10l1 10l1.4 10l2.1 9.9l2.8 10l3.7 10l4.8 10l6.2 10l7.9 10l7.6 7.4l3.2 2.6l6.8 4.9l8.7 5.1l11.3 4.8l10 3.1l10 2Z" fill="#e39a3c"/>
<path d="M983.9 1013.9l10 1.4l10 .2l10 -.9l10 -1.8l4.3 -1.1l5.7 -1.6l10 -3.6l11 -4.8l9 -4.8l10 -5.8l13.3 -9.4l6.7 -5.4l5.5 -4.6l10.4 -10l9 -9.9l7.7 -10l7.3 -11.2l5 -8.8l4.8 -10l3.9 -10l3.3 -10l2.6 -10l2.1 -10l1.5 -10l1 -10l.6 -10l.1 -10l-.3 -10l-.7 -10l-1.3 -10l-2.6 -13.9l-1.4 -6.1l-2.9 -10l-3.5 -10l-2.2 -5.1l-2.1 -4.9l-5.1 -10l-6 -10l-6.9 -10l-8.1 -9.9l-9.3 -10l-10.7 -10l-12.2 -10l-14.6 -10l-17.9 -10l-7 -3.1l-10 -3.9l-10 -3.1l-10 -2l-10 -1l-10 -.1l-10 1.2l-10 2.6l-10 4.5l-7.9 4.9l-2.1 1.6l-8.8 8.4l-7.3 10l-3.9 7.1l-1.4 2.9l-3.6 10l-2.6 10l-1.8 9.9l-1 10l-.5 10l.3 20l3.1 50l.4 20l-.4 20l-3.1 50l-.3 20l.4 10l1 10l1.8 10l2.6 9.9l3.7 10l5.3 10l7.3 10l8.8 8.5l10 6.5l10 4.6Z" fill="#d6613b"/>
<path d="M993.9 973.7l10 .9l10 -1.2l10 -3.1l10 -5.1l5.6 -3.5l4.4 -3.2l7.9 -6.7l9.3 -10l2.8 -3.6l4.7 -6.4l6.1 -10l4.9 -10l4.2 -10l3.2 -10l2.6 -10l2 -10l1.5 -10l.8 -7.9l.6 -12.1l.1 -10l-.3 -10l-.8 -10l-1.3 -10l-1.7 -10l-2.3 -10l-2.8 -10l-3.5 -10l-4.3 -10l-5.1 -10l-6.3 -10l-7.5 -10l-9.4 -9.9l-5.4 -4.8l-6.8 -5.2l-3.2 -2.2l-10 -5.3l-6.6 -2.5l-3.4 -1.2l-10 -1.5l-10 .5l-10 3.1l-10 7.4l-1.5 1.7l-6.4 10l-2.1 5.1l-1.5 4.8l-1.8 10l-.7 10l0 10l.7 10l5.4 50l.6 10l.3 10l-.2 10l-.5 10l-4.2 40l-1.5 20l0 10l.8 10l1.8 10l.8 2.4l3.1 7.6l6.3 9.9l10.6 8.4l3.8 1.6Z" fill="#bc5787"/>
</g>
</g>
<rect x="863.90" y="591.90" width="489.90" height="489.80" fill="none" stroke="#000" stroke-width="1.9"/>
<path d="M873.90 1081.70V1089.20M863.90 1071.70H856.40M993.87 1081.70V1089.20M863.90 951.75H856.40M1113.85 1081.70V1089.20M863.90 831.80H856.40M1233.82 1081.70V1089.20M863.90 711.85H856.40M1353.80 1081.70V1089.20M863.90 591.90H856.40" stroke="#000" stroke-width="1.8" fill="none"/>
<text x="867.30" y="1118.70" text-anchor="middle">-480</text>
<text x="989.07" y="1118.70" text-anchor="middle">-240</text>
<text x="1114.95" y="1118.70" text-anchor="middle">0</text>
<text x="1234.57" y="1118.70" text-anchor="middle">240</text>
<text x="1354.80" y="1118.70" text-anchor="middle">480</text>
<text x="853.50" y="602.05" text-anchor="end">480</text>
<text x="853.50" y="723.55" text-anchor="end">240</text>
<text x="853.50" y="843.85" text-anchor="end">0</text>
<text x="853.50" y="965.35" text-anchor="end">-240</text>
<text x="853.50" y="1085.15" text-anchor="end">-480</text>
<text x="1114.40" y="1148.40" text-anchor="middle"><tspan font-style="italic">x</tspan>/m</text>
<text transform="translate(784.90 837.90) rotate(-90)" text-anchor="middle"><tspan font-style="italic">y</tspan>/m</text>
<text x="715.55" y="599.20" style="font-size:29.5px">(d)</text>
<rect x="1374.80" y="1054.20" width="20.70" height="32.90" fill="#4f3b75"/>
<rect x="1374.80" y="1021.60" width="20.70" height="32.90" fill="#6b91bf"/>
<rect x="1374.80" y="989.00" width="20.70" height="32.90" fill="#9dc9ac"/>
<rect x="1374.80" y="956.40" width="20.70" height="32.90" fill="#6db75d"/>
<rect x="1374.80" y="923.80" width="20.70" height="32.90" fill="#7cbb52"/>
<rect x="1374.80" y="891.20" width="20.70" height="32.90" fill="#e6dc48"/>
<rect x="1374.80" y="858.60" width="20.70" height="32.90" fill="#e39a3c"/>
<rect x="1374.80" y="826.00" width="20.70" height="32.90" fill="#d6613b"/>
<rect x="1374.80" y="793.40" width="20.70" height="32.90" fill="#bc5787"/>
<rect x="1374.80" y="760.80" width="20.70" height="32.90" fill="#a06a9c"/>
<path d="M1374.80 1054.20H1395.50M1374.80 1021.60H1395.50M1374.80 989.00H1395.50M1374.80 956.40H1395.50M1374.80 923.80H1395.50M1374.80 891.20H1395.50M1374.80 858.60H1395.50M1374.80 826.00H1395.50M1374.80 793.40H1395.50" stroke="#505050" stroke-width="1" stroke-opacity="0.6" fill="none"/>
<rect x="1374.80" y="760.80" width="20.70" height="326.00" fill="none" stroke="#000" stroke-width="1.8"/>
<text x="1406.90" y="1064.75">0.36</text>
<text x="1406.90" y="999.65">0.44</text>
<text x="1406.90" y="933.95">0.52</text>
<text x="1406.90" y="869.55">0.60</text>
<text x="1406.90" y="803.05">0.68</text>
<path d="M1395.50 1054.20H1401.50M1395.50 989.00H1401.50M1395.50 923.80H1401.50M1395.50 858.60H1401.50M1395.50 793.40H1401.50" stroke="#000" stroke-width="1.6" fill="none"/>
<text transform="translate(1502.40 923.00) rotate(-90)" text-anchor="middle">&#916;<tspan font-style="italic">T</tspan>/nT</text>
</svg>
</body></html>
